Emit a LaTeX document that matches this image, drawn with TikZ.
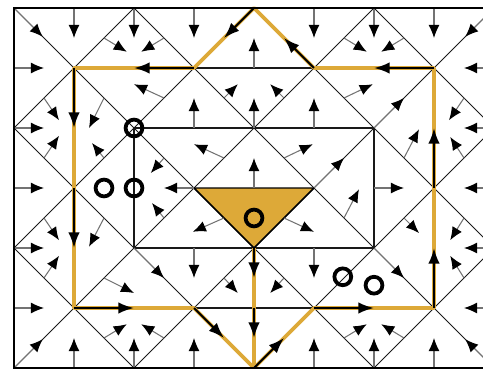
\documentclass[tikz,border=0pt]{standalone}
\usepackage{tikz}
\usetikzlibrary{arrows.meta}
\definecolor{sepgold}{RGB}{221,169,56}

\tikzset{
  mesh/.style={line width=0.5pt, black!90},
  vec/.style={line width=0.5pt, black!55, -{Latex[length=6.2pt,width=5.2pt,color=black]}},
  flow/.style={line width=1pt, black, -{Latex[length=7.4pt,width=5.4pt]}},
  sep/.style={line width=1.75pt, sepgold},
  crit/.style={line width=1.8pt, black},
}

\begin{document}
\begin{tikzpicture}[x=1cm,y=-1cm]
  \useasboundingbox (-0.2333,-0.1333) rectangle (7.8167,6.0167);
  \clip (-0.2333,-0.1333) rectangle (7.8167,6.0167);

  % diamond lattice
  \begin{scope}
    \clip (0,0) rectangle (8,6);
    \foreach \c in {-6,-4,...,8} \draw[mesh] (\c,0) -- ++(6,6);
    \foreach \c in {0,2,...,14} \draw[mesh] (\c,0) -- ++(-6,6);
  \end{scope}
  % splitting edges
  \draw[mesh] (3,1) -- (5,1);
  \draw[mesh] (2,2) -- (6,2);
  \draw[mesh] (2,4) -- (6,4);
  \draw[mesh] (2,2) -- (2,4);
  \draw[mesh] (6,2) -- (6,4);
  \draw[mesh] (3,5) -- (5,5);

  % critical triangle
  \filldraw[fill=sepgold, draw=black, line width=0.7pt, line join=round] (3,3) -- (5,3) -- (4,4) -- cycle;

  % separatrices
  \draw[sep, line join=round] (1,1) -- (3,1) -- (4,0) -- (5,1) -- (7,1) -- (7,5) -- (5,5) -- (4,6) -- (3,5) -- (1,5) -- cycle;
  \draw[sep] (4,4) -- (4,6);

  % boundary vectors
  \foreach \a in {1,2,3,5,6,7} {
    \draw[vec] (\a,0) -- ++(0,0.5);
    \draw[vec] (\a,6) -- ++(0,-0.5);
  }
  \foreach \b in {1,...,5} {
    \draw[vec] (0,\b) -- ++(0.5,0);
    \draw[vec] (8,\b) -- ++(-0.5,0);
  }
  \draw[vec] (0,0) -- ++(0.48,0.48);
  \draw[vec] (0,6) -- ++(0.48,-0.48);
  \draw[vec] (8,0) -- ++(-0.48,0.48);
  \draw[vec] (8,6) -- ++(-0.48,-0.48);

  % inner vectors: start / offset
  \foreach \x/\y/\dx/\dy in {
      1.5/0.5/0.38/0.23, 2.5/0.5/-0.38/0.23, 5.5/0.5/0.38/0.23, 6.5/0.5/-0.38/0.23,
      4/1/0/-0.5,
      0.5/1.5/0.25/0.37, 1.5/1.5/-0.25/0.5, 2.5/1.5/-0.5/-0.23, 3.5/1.5/0.23/-0.23,
      4.5/1.5/-0.23/-0.23, 5.5/1.5/0.48/-0.23, 7.5/1.5/-0.25/0.37,
      3/2/0/-0.5, 4/2/0/-0.5, 5/2/0/-0.5, 6/2/0.5/-0.5,
      0.5/2.5/0.25/-0.37, 1.5/2.5/-0.2/-0.25, 2.5/2.5/-0.22/0.25, 3.5/2.5/-0.5/-0.23,
      4.5/2.5/0.48/-0.23, 6.5/2.5/0.25/-0.48, 7.5/2.5/-0.23/-0.35,
      3/3/-0.5/0, 4/3/0/-0.5, 5/3/0.5/-0.5, 6/3/0.5/0,
      0.5/3.5/0.25/0.37, 1.5/3.5/-0.25/0.48, 2.5/3.5/-0.2/-0.25, 3.5/3.5/-0.52/0.23,
      4.5/3.5/0.5/0.23, 5.5/3.5/0.25/-0.48, 6.5/3.5/0.25/0.25, 7.5/3.5/-0.23/0.37,
      2/4/0.5/0.5, 3/4/0/0.5, 5/4/0/0.5, 6/4/0.5/0.5,
      0.5/4.5/0.25/-0.37, 1.5/4.5/0.5/0.25, 3.5/4.5/0.23/0.25, 4.5/4.5/-0.23/0.25,
      7.5/4.5/-0.23/-0.37,
      1.5/5.5/0.38/-0.23, 2.5/5.5/-0.38/-0.23, 5.5/5.5/0.38/-0.23, 6.5/5.5/-0.38/-0.23}
    \draw[vec] (\x,\y) -- ++(\dx,\dy);

  % flow along separatrices
  \draw[flow] (1,1) -- (1,2);
  \draw[flow] (1,3) -- (1,4);
  \draw[flow] (1,5) -- (2,5);
  \draw[flow] (3,5) -- (3.5,5.5);
  \draw[flow] (4,6) -- (4.5,5.5);
  \draw[flow] (5,5) -- (6,5);
  \draw[flow] (7,5) -- (7,4);
  \draw[flow] (7,3) -- (7,2);
  \draw[flow] (7,1) -- (6,1);
  \draw[flow] (5,1) -- (4.5,0.5);
  \draw[flow] (4,0) -- (3.5,0.5);
  \draw[flow] (3,1) -- (2,1);
  \draw[flow] (4,4) -- (4,4.5);
  \draw[flow] (4,5) -- (4,5.5);

  % critical cells
  \draw[crit] (2,2) circle (0.14);
  \draw[crit] (1.5,3) circle (0.14);
  \draw[crit] (2,3) circle (0.14);
  \draw[crit] (4,3.5) circle (0.14);
  \draw[crit] (5.48,4.48) circle (0.14);
  \draw[crit] (6,4.62) circle (0.14);

  \draw[line width=0.9pt] (0,0) rectangle (8,6);
\end{tikzpicture}
\end{document}
